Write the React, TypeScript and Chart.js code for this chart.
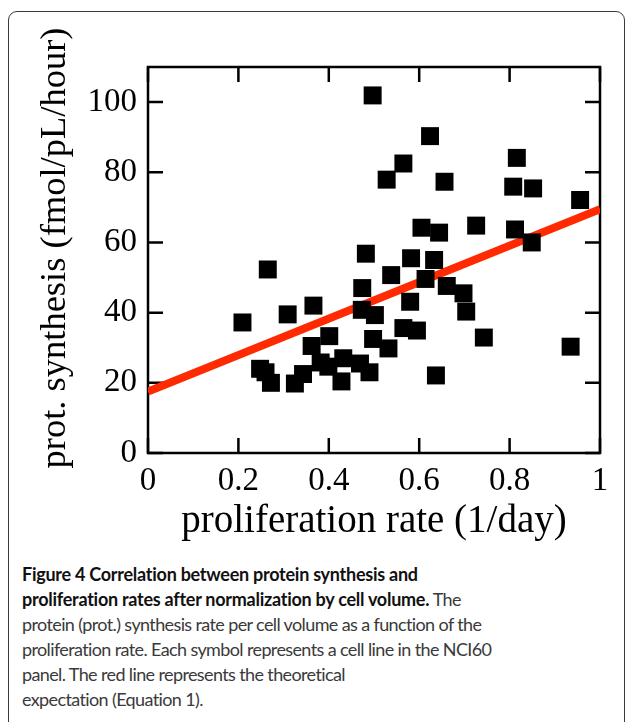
import React, { useEffect, useRef } from 'react';
import { Chart, registerables } from 'chart.js';

Chart.register(...registerables);

// proliferation rate (1/day) of each cell line
const rateX = [
  0.209, 0.265, 0.248, 0.26, 0.272, 0.309, 0.366, 0.325, 0.343, 0.362,
  0.382, 0.401, 0.399, 0.428, 0.432, 0.469, 0.49, 0.473, 0.474, 0.482,
  0.497, 0.498, 0.502, 0.532, 0.538, 0.528, 0.565, 0.565, 0.595, 0.58,
  0.582, 0.605, 0.614, 0.624, 0.633, 0.637, 0.644, 0.656, 0.661, 0.698,
  0.704, 0.726, 0.743, 0.808, 0.816, 0.812, 0.852, 0.849, 0.935, 0.956,
];
// protein synthesis (fmol/pL/hour) of each cell line
const synthY = [
  37.2, 52.3, 24.0, 23.0, 20.0, 39.5, 42.0, 19.8, 22.5, 30.5,
  25.8, 33.3, 24.6, 20.4, 27.0, 25.5, 23.0, 40.8, 47.0, 56.8,
  101.9, 32.5, 39.3, 29.8, 50.7, 77.9, 82.5, 35.6, 34.9, 43.1,
  55.5, 64.2, 49.6, 90.3, 55.0, 22.1, 62.8, 77.3, 47.6, 45.5,
  40.3, 64.8, 32.9, 75.9, 84.1, 63.7, 75.4, 60.0, 30.3, 72.1,
];
// theoretical expectation (Equation 1)
const theoryX = [0, 1];
const theoryY = [17.5, 69.5];

const xTicks = [0, 0.2, 0.4, 0.6, 0.8, 1];
const xLabels = ['0', '0.2', '0.4', '0.6', '0.8', '1'];
const yTicks = [0, 20, 40, 60, 80, 100];
const yLabels = ['0', '20', '40', '60', '80', '100'];

const xTitle = 'proliferation rate (1/day)';
const yTitle = 'prot. synthesis (fmol/pL/hour)';

const SERIF = '"Liberation Serif", "Times New Roman", serif';

const framePlugin = {
  id: 'frameTicks',
  beforeDatasetsDraw(chart: any) {
    const { ctx, chartArea: a, scales } = chart;
    ctx.save();
    ctx.strokeStyle = '#000';
    ctx.lineWidth = 2.5;
    ctx.strokeRect(a.left, a.top, a.right - a.left, a.bottom - a.top);
    const L = 15;
    ctx.beginPath();
    xTicks.forEach((v) => {
      const px = scales.x.getPixelForValue(v);
      ctx.moveTo(px, a.bottom);
      ctx.lineTo(px, a.bottom - L);
      ctx.moveTo(px, a.top);
      ctx.lineTo(px, a.top + L);
    });
    yTicks.forEach((v) => {
      const py = scales.y.getPixelForValue(v);
      ctx.moveTo(a.left, py);
      ctx.lineTo(a.left + L, py);
      ctx.moveTo(a.right, py);
      ctx.lineTo(a.right - L, py);
    });
    ctx.stroke();
    ctx.restore();
  },
  afterDraw(chart: any) {
    const { ctx, chartArea: a } = chart;
    ctx.save();
    ctx.font = `36.5px ${SERIF}`;
    ctx.fillStyle = '#000';
    ctx.textAlign = 'center';
    ctx.textBaseline = 'alphabetic';
    ctx.translate(65, (a.top + a.bottom) / 2 - 12);
    ctx.rotate(-Math.PI / 2);
    ctx.fillText(yTitle, 0, 0);
    ctx.restore();
  },
};

function ScatterChart() {
  const ref = useRef<HTMLCanvasElement | null>(null);
  useEffect(() => {
    if (!ref.current) return;
    const points = rateX.map((x, i) => ({ x, y: synthY[i] }));
    const line = theoryX.map((x, i) => ({ x, y: theoryY[i] }));
    const chart = new Chart(ref.current, {
      type: 'scatter',
      data: {
        datasets: [
          {
            type: 'scatter',
            data: points,
            pointStyle: 'rect',
            pointRadius: 12.7,
            pointHoverRadius: 12.7,
            backgroundColor: '#000',
            borderWidth: 0,
          } as any,
          {
            type: 'line',
            data: line,
            borderColor: '#ff2a00',
            borderWidth: 8,
            pointRadius: 0,
            fill: false,
            borderCapStyle: 'butt',
          } as any,
        ],
      },
      options: {
        responsive: false,
        animation: false,
        layout: { padding: { left: 34, top: 67, right: 29, bottom: 0 } },
        plugins: { legend: { display: false }, tooltip: { enabled: false } },
        scales: {
          x: {
            type: 'linear',
            min: 0,
            max: 1,
            afterBuildTicks: (s: any) => {
              s.ticks = xTicks.map((v) => ({ value: v }));
            },
            afterFit: (s: any) => {
              s.height = 92;
            },
            ticks: {
              callback: (_v: any, i: number) => xLabels[i],
              font: { family: SERIF, size: 33 },
              color: '#000',
              padding: 9,
              maxRotation: 0,
              autoSkip: false,
            },
            grid: { display: false, drawTicks: false },
            border: { display: false },
            title: {
              display: true,
              text: xTitle,
              font: { family: SERIF, size: 39 },
              color: '#000',
              padding: 0,
            },
          },
          y: {
            type: 'linear',
            min: 0,
            max: 110,
            afterBuildTicks: (s: any) => {
              s.ticks = yTicks.map((v) => ({ value: v }));
            },
            afterFit: (s: any) => {
              s.width = 114;
            },
            ticks: {
              callback: (_v: any, i: number) => yLabels[i],
              font: { family: SERIF, size: 33 },
              color: '#000',
              padding: 11,
              autoSkip: false,
            },
            grid: { display: false, drawTicks: false },
            border: { display: false },
            title: { display: false, text: yTitle },
          },
        },
      } as any,
      plugins: [framePlugin],
    });
    return () => chart.destroy();
  }, []);
  return (
    <canvas
      ref={ref}
      width={629}
      height={545}
      style={{ position: 'absolute', left: 0, top: 0, width: 629, height: 545, display: 'block' }}
    />
  );
}

const boldStyle = { color: '#111', letterSpacing: '-0.26px' };

export default function App() {
  return (
    <div
      style={{
        position: 'absolute',
        left: 0,
        top: 0,
        width: 629,
        height: 722,
        overflow: 'hidden',
        background: '#fff',
      }}
    >
      <div
        style={{
          position: 'absolute',
          left: 8,
          top: 11,
          width: 617,
          height: 740,
          border: '1.5px solid #3a3a3a',
          borderRadius: 9,
          boxSizing: 'border-box',
        }}
      />
      <ScatterChart />
      <div
        style={{
          position: 'absolute',
          left: 22,
          top: 562,
          width: 600,
          fontFamily: 'Lato, "Noto Sans", sans-serif',
          fontSize: 18,
          lineHeight: '25px',
          color: '#3a3a3a',
          letterSpacing: '-0.62px',
          whiteSpace: 'nowrap',
        }}
      >
        <b style={boldStyle}>Figure 4 Correlation between protein synthesis and</b>
        <br />
        <b style={boldStyle}>proliferation rates after normalization by cell volume.</b> The
        <br />
        protein (prot.) synthesis rate per cell volume as a function of the
        <br />
        proliferation rate. Each symbol represents a cell line in the NCI60
        <br />
        panel. The red line represents the theoretical
        <br />
        expectation (Equation 1).
      </div>
    </div>
  );
}
